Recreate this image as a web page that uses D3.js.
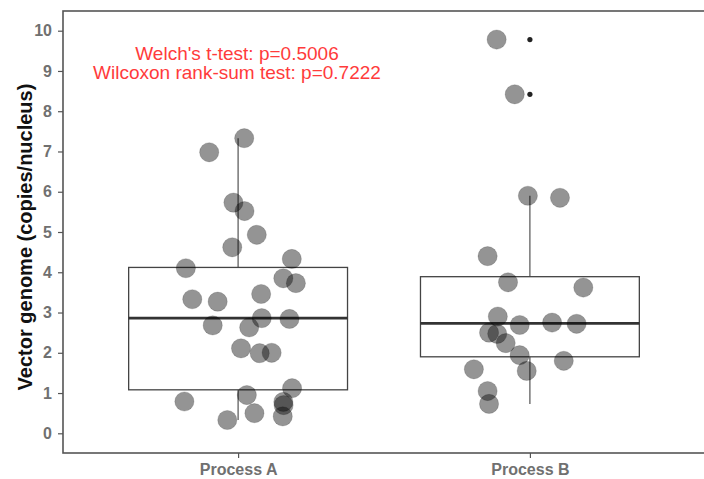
<!DOCTYPE html>
<html>
<head>
<meta charset="utf-8">
<script src="https://cdn.jsdelivr.net/npm/d3@7"></script>
<style>
  body { margin: 0; background: #fff; }
  text { font-family: "Liberation Sans", Arial, sans-serif; }
</style>
</head>
<body>
<div id="chart"></div>
<script>
// groups and their position on the discrete axis
var groups = ["Process A", "Process B"];

var valuesA = [6.98, 7.33, 5.73, 5.52, 4.93, 4.62, 4.10, 4.33, 3.85, 3.73, 3.33, 3.27, 3.46, 2.86,
               2.84, 2.68, 2.63, 2.11, 1.99, 2.00, 1.12, 0.95, 0.79, 0.78, 0.70, 0.42, 0.50, 0.33];
var jitterA = [-0.099, 0.021, -0.016, 0.022, 0.064, -0.020, -0.179, 0.184, 0.155, 0.198, -0.157, -0.070, 0.079, 0.081,
               0.176, -0.087, 0.038, 0.010, 0.074, 0.115, 0.185, 0.030, -0.184, 0.155, 0.156, 0.153, 0.056, -0.037];
var valuesB = [9.78, 8.42, 5.90, 5.85, 4.40, 3.75, 3.62, 2.90, 2.69, 2.75, 2.72, 2.50, 2.47, 2.24,
               1.94, 1.80, 1.59, 1.55, 1.05, 0.73];
var jitterB = [-0.114, -0.052, -0.007, 0.103, -0.145, -0.075, 0.183, -0.110, -0.035, 0.076, 0.160, -0.140, -0.112, -0.083,
               -0.035, 0.116, -0.192, -0.011, -0.145, -0.140];

// box stats: [lower whisker, Q1, median, Q3, upper whisker]
var boxA = [0.33, 1.08, 2.86, 4.12, 7.33];
var boxB = [0.73, 1.90, 2.73, 3.89, 5.90];
var outliersB = [9.78, 8.42];

var yTicks = [0, 1, 2, 3, 4, 5, 6, 7, 8, 9, 10];
var notes = ["Welch's t-test: p=0.5006", "Wilcoxon rank-sum test: p=0.7222"];

var width = 704, height = 479;
var pLeft = 63, pTop = 11, pBottom = 453, pRight = 705;

var svg = d3.select("#chart").append("svg")
    .attr("width", width)
    .attr("height", height);

// discrete axis expanded by 0.6 on each side, like ggplot
var x = d3.scaleLinear().domain([0.4, 2.6]).range([pLeft, pRight]);
var y = d3.scaleLinear().domain([0, 10]).range([433.3, 30.7]);

// panel border (right side runs off the picture)
svg.append("rect")
    .attr("x", pLeft).attr("y", pTop)
    .attr("width", pRight - pLeft + 10).attr("height", pBottom - pTop)
    .attr("fill", "none").attr("stroke", "#555").attr("stroke-width", 1.6);

// y axis ticks and labels
var yAxis = svg.append("g")
    .attr("transform", "translate(" + pLeft + ",0)")
    .call(d3.axisLeft(y).tickValues(yTicks).tickSize(5).tickFormat(d3.format("d")));
yAxis.select(".domain").remove();
yAxis.selectAll("line").attr("stroke", "#555").attr("stroke-width", 1.2);
yAxis.selectAll("text")
    .attr("fill", "#707070").style("font-size", "16px").style("font-weight", "bold")
    .style("font-family", "'Liberation Sans', Arial, sans-serif").attr("x", -11);

// x axis ticks and labels
var xAxis = svg.append("g")
    .attr("transform", "translate(0," + pBottom + ")")
    .call(d3.axisBottom(x).tickValues([1, 2]).tickSize(5).tickFormat(function(d) { return groups[d - 1]; }));
xAxis.select(".domain").remove();
xAxis.selectAll("line").attr("stroke", "#555").attr("stroke-width", 1.2);
xAxis.selectAll("text")
    .attr("fill", "#707070").style("font-size", "16px").style("font-weight", "bold")
    .style("font-family", "'Liberation Sans', Arial, sans-serif").attr("y", 11);

svg.append("text")
    .attr("transform", "translate(32,237) rotate(-90)")
    .attr("text-anchor", "middle")
    .style("font-size", "20px").style("font-weight", "bold")
    .attr("fill", "#111")
    .text("Vector genome (copies/nucleus)");

// boxplots
var boxHalf = 0.375;
[boxA, boxB].forEach(function(b, i) {
  var cx = i + 1;
  var g = svg.append("g").attr("stroke", "#444").attr("fill", "none");
  g.append("line").attr("x1", x(cx)).attr("x2", x(cx)).attr("y1", y(b[3])).attr("y2", y(b[4])).attr("stroke-width", 1.1);
  g.append("line").attr("x1", x(cx)).attr("x2", x(cx)).attr("y1", y(b[1])).attr("y2", y(b[0])).attr("stroke-width", 1.1);
  g.append("rect")
      .attr("x", x(cx - boxHalf)).attr("y", y(b[3]))
      .attr("width", x(cx + boxHalf) - x(cx - boxHalf)).attr("height", y(b[1]) - y(b[3]))
      .attr("stroke-width", 1.3);
  g.append("line")
      .attr("x1", x(cx - boxHalf)).attr("x2", x(cx + boxHalf))
      .attr("y1", y(b[2])).attr("y2", y(b[2]))
      .attr("stroke", "#333").attr("stroke-width", 2.6);
});

// outlier dots from the boxplot layer
svg.selectAll(".outlier").data(outliersB).enter().append("circle")
    .attr("class", "outlier")
    .attr("cx", x(2)).attr("cy", function(d) { return y(d); })
    .attr("r", 2.6).attr("fill", "#222");

// jittered points
var pts = valuesA.map(function(v, i) { return { g: 1, v: v, j: jitterA[i] }; })
    .concat(valuesB.map(function(v, i) { return { g: 2, v: v, j: jitterB[i] }; }));

svg.selectAll(".pt").data(pts).enter().append("circle")
    .attr("class", "pt")
    .attr("cx", function(d) { return x(d.g + d.j); })
    .attr("cy", function(d) { return y(d.v); })
    .attr("r", 9.6)
    .attr("fill", "#000").attr("fill-opacity", 0.42)
    .attr("stroke", "#000").attr("stroke-opacity", 0.15).attr("stroke-width", 1);

// test annotations
svg.selectAll(".note").data(notes).enter().append("text")
    .attr("class", "note")
    .attr("x", 237)
    .attr("y", function(d, i) { return 60 + i * 19; })
    .attr("text-anchor", "middle")
    .attr("fill", "#ff3b3b")
    .style("font-size", "19px")
    .text(function(d) { return d; });
</script>
</body>
</html>
